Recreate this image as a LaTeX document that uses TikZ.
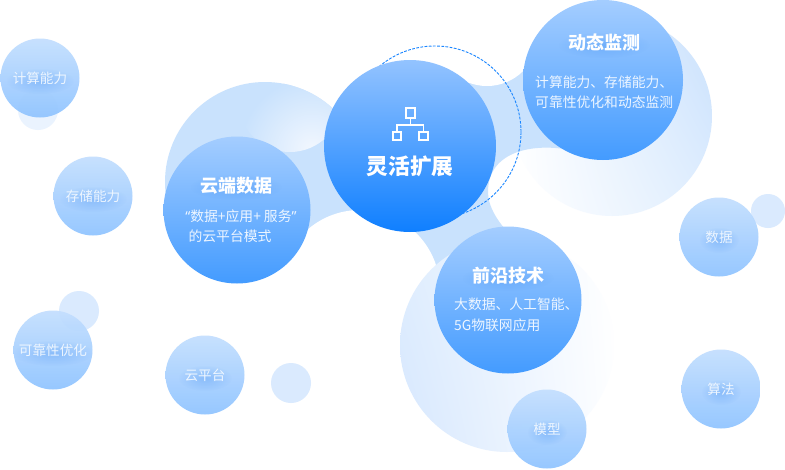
\documentclass[tikz,border=0pt]{standalone}
\usepackage{fontspec}
\setmainfont{Noto Sans CJK SC}
\newfontfamily\latinq{Noto Sans}
\usetikzlibrary{fadings,shadings}
\tikzfading[name=softglow, inner color=transparent!0, middle color=transparent!35, outer color=transparent!100]
\definecolor{link}{HTML}{C9E2FD}
\definecolor{pale}{HTML}{DAEAFE}
\definecolor{dashblue}{HTML}{1A86FF}
\definecolor{bubTop}{HTML}{C4DFFE}
\definecolor{bubBot}{HTML}{90C4FF}
\definecolor{bigTop}{HTML}{A4CDFF}
\definecolor{bigBot}{HTML}{439BFF}
\definecolor{glowblue}{HTML}{3C8CF0}
\definecolor{mainTop}{HTML}{93C3FF}
\definecolor{mainBot}{HTML}{0F7FFF}
\definecolor{bodytext}{HTML}{EEF6FF}
\definecolor{dotlight}{HTML}{EAF3FE}
\definecolor{ca}{HTML}{E0EEFE}
\definecolor{cc}{HTML}{C8E0FD}
\definecolor{ch}{HTML}{D6E7FE}
\definecolor{ci}{HTML}{E0EEFE}
\definecolor{cj}{HTML}{FDFEFF}
\definecolor{bitelight}{HTML}{F2F7FE}
\newcommand{\glowtext}[3]{%
  \fill[glowblue, opacity=.3, path fading=softglow] (#1,#2) ellipse [x radius=#3pt, y radius=13pt];}
\tikzset{
  x=1pt, y=-1pt,
  bubble/.style={circle, minimum size=79pt, inner sep=0pt, top color=bubTop, bottom color=bubBot, fill opacity=.94},
  bigbubble/.style={circle, minimum size=147pt, inner sep=0pt, top color=bigTop, bottom color=bigBot},
  smalldot/.style={circle, inner sep=0pt, fill=pale},
  small/.style={text=bodytext, font=\fontsize{13.6pt}{16pt}\selectfont, inner sep=0pt},
  body/.style={text=bodytext, font=\fontsize{13.8pt}{16pt}\selectfont, inner sep=0pt},
  head/.style={text=white, font=\fontsize{18pt}{20pt}\selectfont\bfseries, inner sep=0pt},
  iconline/.style={draw=white, line width=1.6pt},
  iconbox/.style={iconline, inner sep=0pt, rectangle, minimum size=#1},
  bil/.style={shading=bilinear interpolation},
}
\begin{document}
\begin{tikzpicture}
\useasboundingbox (0,0) rectangle (785,469);
\fill[white] (0,0) rectangle (785,469);

% big pale circle behind dynamic monitoring
\begin{scope}
  \clip (612,116) circle (100pt);
  \shade[bil, lower left=white, lower right=ca, upper left=white, upper right=cc] (512,16) rectangle (712,216);
\end{scope}

% big circle upper left with faded bite
\begin{scope}
  \clip (100,0) rectangle (400,240);
  \fill[link] (265,182) circle (100pt);
\end{scope}
\begin{scope}
  \clip (290,100) circle (52pt);
  \clip (265,182) circle (100pt);
  \shade[inner color=bitelight, outer color=link] (312,150) circle (72pt);
\end{scope}

% link area between the central bubble and its neighbours
\fill[link] (440,100) -- (540,40) -- (575,100) -- (570,150)
  .. controls (535,143) and (488,150) .. (488,192)
  .. controls (488,207) and (498,223) .. (515,240)
  -- (500,290) -- (400,290) -- (400,150) -- cycle;
\fill[white] (487,35) circle (51pt);
\fill[white] (360,290) circle (80pt);

% big pale circle behind frontier tech
\begin{scope}
  \clip (507,345) circle (107pt);
  \shade[bil, lower left=ch, upper left=ci, lower right=cj, upper right=white] (400,238) rectangle (614,452);
\end{scope}

% small dots below bubbles
\node[smalldot, minimum size=40pt, fill=dotlight] (d1) at (38,110) {};
\node[smalldot, minimum size=40pt] (d2) at (79,311) {};
\node[smalldot, minimum size=40pt] (d3) at (291,383) {};
\node[smalldot, minimum size=34pt] (d4) at (768,211) {};

% dashed ring
\draw[dashblue, dash pattern=on 2.8pt off 1.4pt, line width=.9pt] (435,132) circle (86pt);

% large bubbles
\node[bigbubble] (yun) at (237,210) {};
\node[bigbubble] (qian) at (508,300) {};
\node[bigbubble, minimum size=160pt] (dong) at (603,80) {};
\node[circle, minimum size=172pt, inner sep=0pt, top color=mainTop, bottom color=mainBot] (main) at (410,146) {};

% small bubbles
\node[bubble] (b1) at (40,78) {};
\node[bubble] (b2) at (93,196) {};
\node[bubble] (b3) at (53,350) {};
\node[bubble] (b4) at (205,375) {};
\node[bubble] (b5) at (719,237) {};
\node[bubble] (b6) at (721,389) {};
\node[bubble] (b7) at (547,429) {};

% soft text glows
\glowtext{236}{187}{46}
\glowtext{604}{45}{46}
\glowtext{508}{278}{46}
\glowtext{40}{81}{34}
\glowtext{93}{199}{34}
\glowtext{53}{353}{40}
\glowtext{205}{378}{27}
\glowtext{719}{240}{20}
\glowtext{721}{392}{20}
\glowtext{547}{432}{20}

% texts
\node[small] (t1) at (b1) {计算能力};
\node[small] (t2) at (b2) {存储能力};
\node[small] (t3) at (b3) {可靠性优化};
\node[small] (t4) at (b4) {云平台};
\node[small] (t5) at (b5) {数据};
\node[small] (t6) at (b6) {算法};
\node[small] (t7) at (b7) {模型};

\node[head, font=\fontsize{21.7pt}{24pt}\selectfont\bfseries] (m) at (410,166) {灵活扩展};

\node[head] (y0) at (236,185.5) {云端数据};
\node[body] (y1) at (241,216) {{\latinq “}数据+应用+ 服务{\latinq ”}};
\node[body] (y2) at (230,236) {的云平台模式};

\node[head] (g0) at (604,43) {动态监测};
\node[body, anchor=west] (g1) at (535,82) {计算能力、存储能力、};
\node[body, anchor=west] (g2) at (535,102) {可靠性优化和动态监测};

\node[head] (q0) at (508,276) {前沿技术};
\node[body, anchor=west] (q1) at (454,304) {大数据、人工智能、};
\node[body, anchor=west] (q2) at (454,325) {5G物联网应用};

% hierarchy icon
\node[iconbox=9.5pt] (ia) at (410.5,113) {};
\node[iconbox=8.5pt] (ib) at (397,136) {};
\node[iconbox=8.5pt] (ic) at (423.5,136) {};
\coordinate (ij) at (410.5,125);
\draw[iconline] (ia.south) -- (ij);
\draw[iconline] (ib.north) -- (ib.north |- ij) -- (ic.north |- ij) -- (ic.north);
\end{tikzpicture}
\end{document}
